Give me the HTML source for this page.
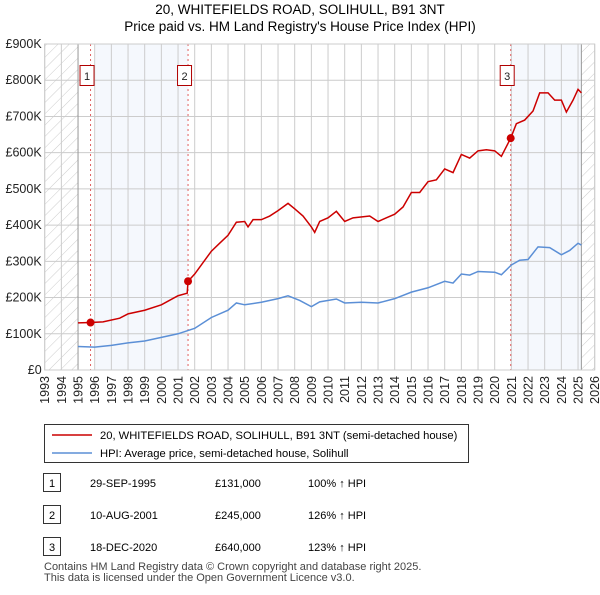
<!DOCTYPE html>
<html><head><meta charset="utf-8"><style>
body{margin:0;background:#fff;font-family:"Liberation Sans",sans-serif;color:#222}
</style></head><body>
<svg width="600" height="590" viewBox="0 0 600 590" xmlns="http://www.w3.org/2000/svg" font-family="Liberation Sans, sans-serif">
<defs><pattern id="hatch" width="8" height="8" patternUnits="userSpaceOnUse" patternTransform="rotate(45)"><line x1="0" y1="0" x2="0" y2="8" stroke="#ccc" stroke-width="1"/></pattern></defs>
<text x="300" y="14" text-anchor="middle" font-size="13.5">20, WHITEFIELDS ROAD, SOLIHULL, B91 3NT</text>
<text x="300" y="31" text-anchor="middle" font-size="13.5">Price paid vs. HM Land Registry's House Price Index (HPI)</text>
<g id="plot"></g>
<g id="legend">
<rect x="44.5" y="424.5" width="424" height="38" fill="#fff" stroke="#333"/>
<line x1="52" y1="435" x2="92" y2="435" stroke="#cc0000" stroke-width="1.5"/>
<text x="100" y="439" font-size="11.2">20, WHITEFIELDS ROAD, SOLIHULL, B91 3NT (semi-detached house)</text>
<line x1="52" y1="453" x2="92" y2="453" stroke="#5b8fd6" stroke-width="1.5"/>
<text x="100" y="457" font-size="11.2">HPI: Average price, semi-detached house, Solihull</text>
</g>
<g font-size="11">
<rect x="43.5" y="473.5" width="17" height="18" fill="#fff" stroke="#333"/><text x="52" y="487" text-anchor="middle">1</text>
<text x="90" y="487">29-SEP-1995</text><text x="215" y="487">£131,000</text><text x="308" y="487">100% ↑ HPI</text>
<rect x="43.5" y="505.5" width="17" height="18" fill="#fff" stroke="#333"/><text x="52" y="519" text-anchor="middle">2</text>
<text x="90" y="519">10-AUG-2001</text><text x="215" y="519">£245,000</text><text x="308" y="519">126% ↑ HPI</text>
<rect x="43.5" y="537.5" width="17" height="18" fill="#fff" stroke="#333"/><text x="52" y="551" text-anchor="middle">3</text>
<text x="90" y="551">18-DEC-2020</text><text x="215" y="551">£640,000</text><text x="308" y="551">123% ↑ HPI</text>
</g>
<text x="44" y="570" font-size="11" fill="#444">Contains HM Land Registry data © Crown copyright and database right 2025.</text>
<text x="44" y="581" font-size="11" fill="#444">This data is licensed under the Open Government Licence v3.0.</text>
</svg>
<script>
const redYears=[1995,1995.75,1996.5,1997.5,1998,1999,2000,2001,2001.55,2001.6,2002,2003,2003.5,2004,2004.5,2005,2005.2,2005.5,2006,2006.5,2007,2007.6,2008,2008.5,2009,2009.2,2009.5,2010,2010.5,2011,2011.5,2012.5,2013,2013.5,2014,2014.5,2015,2015.5,2016,2016.5,2017,2017.5,2018,2018.5,2019,2019.5,2020,2020.4,2020.96,2021.3,2021.8,2022.3,2022.7,2023.2,2023.6,2024,2024.3,2024.7,2025,2025.2];
const redValues=[130,131,133,143,155,165,180,205,212,245,265,328,350,372,408,410,395,415,415,425,440,460,445,425,395,380,410,420,438,410,420,425,410,420,430,450,490,490,520,525,555,545,595,585,605,608,605,590,640,680,690,715,765,765,745,745,712,745,775,765];
const hpiYears=[1995,1996,1997,1998,1999,2000,2001,2002,2003,2004,2004.5,2005,2006,2007,2007.6,2008.3,2009,2009.5,2010.5,2011,2012,2013,2014,2015,2016,2017,2017.5,2018,2018.5,2019,2020,2020.4,2021,2021.5,2022,2022.6,2023.3,2024,2024.5,2025,2025.2];
const hpiValues=[65,63,68,75,80,90,100,115,145,165,185,180,187,197,205,192,175,188,196,185,187,185,197,215,227,245,240,265,262,272,270,263,290,303,305,340,338,318,330,350,345];
const saleYears=[1995.75,2001.6,2020.96];
const saleValues=[131,245,640];
const saleLabels=["1","2","3"];
const yTicks=[0,100,200,300,400,500,600,700,800,900];
const yTickLabels=["£0","£100K","£200K","£300K","£400K","£500K","£600K","£700K","£800K","£900K"];
const xTicks=[];for(let y=1993;y<=2026;y++)xTicks.push(y);

const L=44.7,R=594.7,T=44,B=370;
const xs=y=>L+(y-1993)*(R-L)/33;
const ys=v=>B-v*(B-T)/900;
const NS="http://www.w3.org/2000/svg";
const g=document.getElementById('plot');
function mk(tag,attrs,parent){const e=document.createElementNS(NS,tag);for(const k in attrs)e.setAttribute(k,attrs[k]);(parent||g).appendChild(e);return e;}
let e;
e=mk('rect',{x:L,y:T,width:xs(1995)-L,height:B-T,fill:'url(#hatch)'});


e=mk('rect',{x:xs(2025.2),y:T,width:R-xs(2025.2),height:B-T,fill:'url(#hatch)'});


e=mk('rect',{x:xs(1996.05),y:T,width:xs(saleYears[1])-xs(1996.05),height:B-T,fill:'#eef3fc',opacity:0.6});


e=mk('rect',{x:xs(saleYears[2]),y:T,width:xs(2025.2)-xs(saleYears[2]),height:B-T,fill:'#eef3fc',opacity:0.6});


xTicks.forEach(y=>{
 e=mk('line',{x1:xs(y),x2:xs(y),y1:T,y2:B,stroke:'#ccc','stroke-width':1});
 
 
 e=mk('text',{x:0,y:0,'font-size':12.5,'text-anchor':'end',transform:`translate(${xs(y)+4.5},${B+6}) rotate(-90)`,fill:'#222'});
 e.textContent=y;
 
 
});
yTicks.forEach((v,i)=>{
 e=mk('line',{x1:L,x2:R,y1:ys(v),y2:ys(v),stroke:'#ccc','stroke-width':1});
 
 
 e=mk('text',{x:L-3,y:ys(v)+4,'font-size':12.5,'text-anchor':'end',fill:'#222'});
 e.textContent=yTickLabels[i];
 
 
});
e=mk('line',{x1:xs(1995),x2:xs(1995),y1:T,y2:B,stroke:'#999'});


e=mk('line',{x1:xs(2025.2),x2:xs(2025.2),y1:T,y2:B,stroke:'#999'});


saleYears.forEach((y,i)=>{
 e=mk('line',{x1:xs(y),x2:xs(y),y1:T,y2:B,stroke:'#e06060','stroke-dasharray':'2,3'});
 
 
 e=mk('rect',{x:xs(y)-10.5,y:65.5,width:14,height:20,fill:'#fff',stroke:'#b00000'});
 
 
 e=mk('text',{x:xs(y)-3.5,y:80,'font-size':11,'text-anchor':'middle',fill:'#222'});
 e.textContent=saleLabels[i];
 
 
});
e=mk('polyline',{points:hpiYears.map((y,i)=>xs(y)+','+ys(hpiValues[i])).join(' '),fill:'none',stroke:'#5b8fd6','stroke-width':1.5});


e=mk('polyline',{points:redYears.map((y,i)=>xs(y)+','+ys(redValues[i])).join(' '),fill:'none',stroke:'#cc0000','stroke-width':1.5});


saleYears.forEach((y,i)=>{
 e=mk('circle',{cx:xs(y),cy:ys(saleValues[i]),r:4,fill:'#cc0000'});
 
 
});
e=mk('rect',{x:L,y:T,width:R-L,height:B-T,fill:'none',stroke:'#ccc'});


</script>
</body></html>
